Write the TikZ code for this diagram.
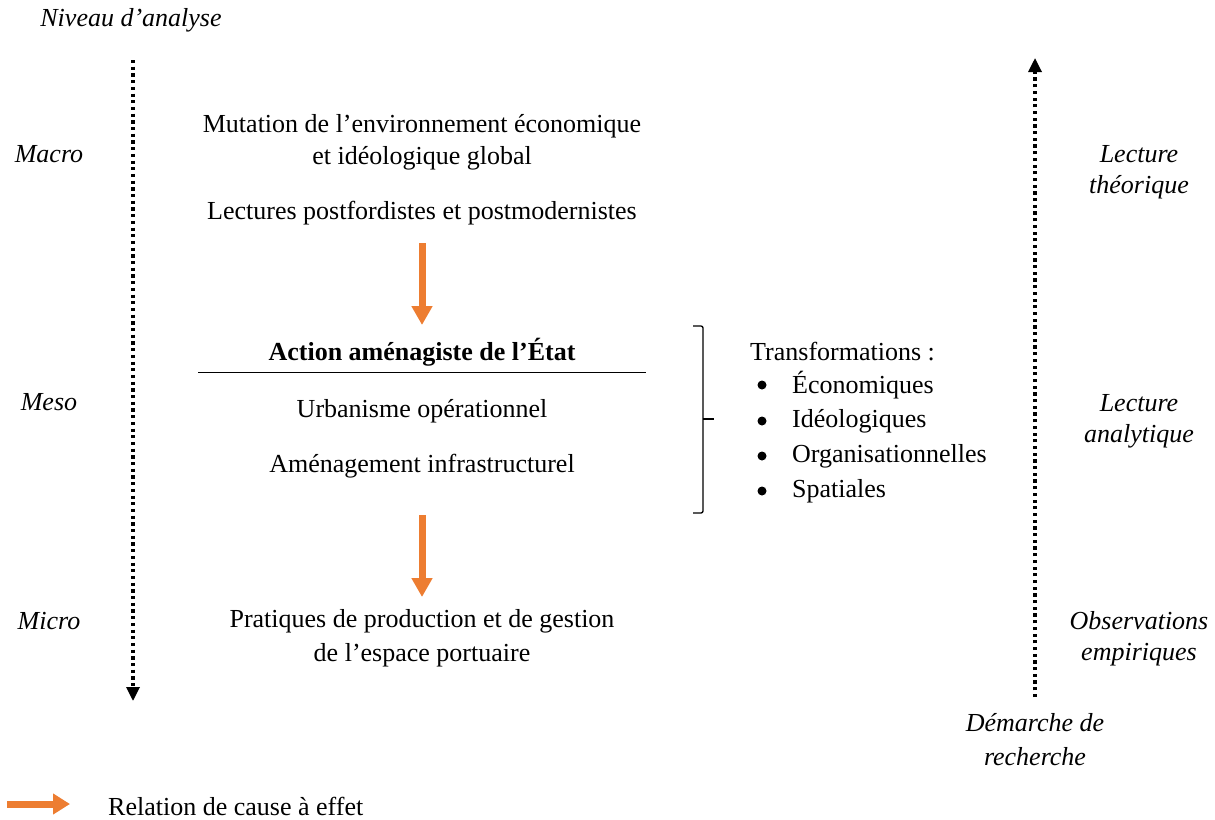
\documentclass[tikz,border=0pt]{standalone}
\usepackage{fontspec}
\setmainfont{Liberation Serif}
\usetikzlibrary{arrows.meta}
\definecolor{cause}{HTML}{ED7D31}
\begin{document}
\begin{tikzpicture}[x=1pt,y=-1pt,
  txt/.style={inner sep=0pt,font=\fontsize{26}{30}\selectfont},
  itxt/.style={txt,font=\fontsize{26}{30}\selectfont\itshape},
  btxt/.style={txt,font=\fontsize{26}{30}\selectfont\bfseries},
  dotarrow/.style={line width=3.2pt,dash pattern=on 3.2pt off 3.5pt,-{Triangle[width=13pt,length=14pt]}},
  causearrow/.style={cause,line width=7pt,-{Triangle[width=20pt,length=19pt]}},
  brace/.style={line width=1.3pt,rounded corners=2pt}]
\useasboundingbox (0,0) rectangle (1215,819);
% left axis
\node[itxt] (niveau) at (131,20) {Niveau d’analyse};
\coordinate (ltop) at (133,60);
\coordinate (lbot) at (133,701);
\draw[dotarrow] (ltop) -- (lbot);
\node[itxt] (macro) at (49,154) {Macro};
\node[itxt] (meso) at (49,402) {Meso};
\node[itxt] (micro) at (49,621) {Micro};
% centre column
\node[txt] (mut1) at (422,126) {Mutation de l’environnement économique};
\node[txt] (mut2) at (422,158) {et idéologique global};
\node[txt] (lect) at (422,213) {Lectures postfordistes et postmodernistes};
\coordinate (a1s) at (422,243);
\coordinate (a1e) at (422,325);
\draw[causearrow] (a1s) -- (a1e);
\node[btxt] (action) at (422,352) {Action aménagiste de l’État};
\coordinate (rl) at (198,372);
\coordinate (rr) at (646,372);
\draw[line width=0.9pt] (rl) -- (rr);
\node[txt] (urb) at (422,411) {Urbanisme opérationnel};
\node[txt] (amen) at (422,466) {Aménagement infrastructurel};
\coordinate (a2s) at (422,515);
\coordinate (a2e) at (422,597);
\draw[causearrow] (a2s) -- (a2e);
\node[txt] (prat1) at (422,621) {Pratiques de production et de gestion};
\node[txt] (prat2) at (422,655) {de l’espace portuaire};
% brace
\coordinate (bt) at (693,326);
\coordinate (bb) at (693,513);
\coordinate (bm) at (714,419);
\draw[brace] (bt) -| (703,513) -- (bb);
\draw[line width=1.3pt] (703,419) -- (bm);
% transformations
\node[txt,anchor=west] (trans) at (750,352) {Transformations :};
\foreach \y/\t [count=\i] in {385/Économiques,421/Idéologiques,456/Organisationnelles,491/Spatiales}{
  \fill (762,\y) circle (4.5pt);
  \node[txt,anchor=west] (t\i) at (792,\y) {\t};
}
% right axis
\coordinate (rbot) at (1035,697);
\coordinate (rtop) at (1035,58);
\draw[dotarrow] (rbot) -- (rtop);
\node[itxt] (lt1) at (1139,154) {Lecture};
\node[itxt] (lt2) at (1139,187) {théorique};
\node[itxt] (la1) at (1139,403) {Lecture};
\node[itxt] (la2) at (1139,436) {analytique};
\node[itxt] (ob1) at (1139,621) {Observations};
\node[itxt] (ob2) at (1139,655) {empiriques};
\node[itxt] (dem1) at (1035,723) {Démarche de};
\node[itxt] (dem2) at (1035,757) {recherche};
% legend
\coordinate (lgs) at (7,804);
\coordinate (lge) at (70,804);
\draw[cause,line width=7pt,-{Triangle[width=20pt,length=17pt]}] (lgs) -- (lge);
\node[txt,anchor=west] (leg) at (108,806) {Relation de cause à effet};
\end{tikzpicture}
\end{document}
